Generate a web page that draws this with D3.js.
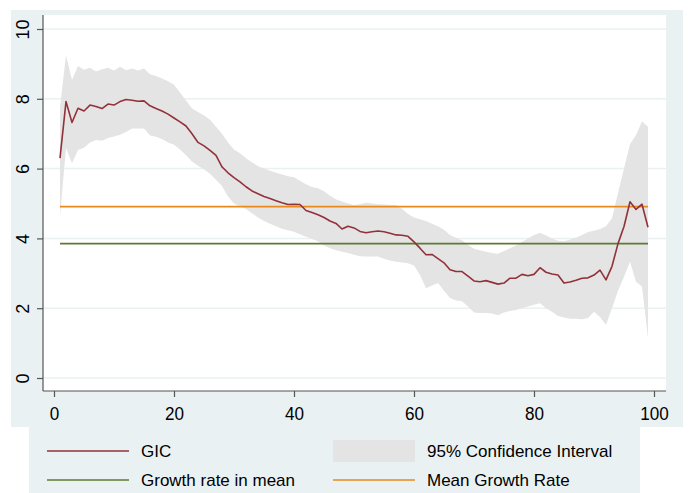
<!DOCTYPE html>
<html>
<head>
<meta charset="utf-8">
<script src="https://cdn.jsdelivr.net/npm/d3@7"></script>
<style>
  html, body { margin: 0; padding: 0; background: #ffffff; }
  svg { display: block; }
  text { font-family: "Liberation Sans", Arial, Helvetica, sans-serif; fill: #000; }
</style>
</head>
<body>
<svg id="chart" width="689" height="493"></svg>
<script>
// ---- data ----
const percentiles = d3.range(1, 100);
const gic = [6.30,7.92,7.32,7.73,7.65,7.82,7.78,7.72,7.85,7.82,
             7.92,7.98,7.96,7.93,7.94,7.80,7.72,7.65,7.56,7.45,
             7.34,7.22,7.00,6.75,6.65,6.52,6.38,6.05,5.88,5.74,
             5.62,5.48,5.36,5.28,5.20,5.14,5.08,5.02,4.97,4.98,
             4.97,4.80,4.74,4.68,4.60,4.50,4.43,4.27,4.35,4.30,
             4.20,4.16,4.19,4.21,4.19,4.15,4.10,4.09,4.06,3.90,
             3.72,3.53,3.54,3.42,3.30,3.10,3.05,3.05,2.92,2.78,
             2.76,2.79,2.74,2.69,2.72,2.86,2.86,2.97,2.93,2.97,
             3.16,3.03,2.98,2.95,2.72,2.75,2.80,2.86,2.87,2.95,
             3.09,2.81,3.20,3.85,4.34,5.05,4.83,4.98,4.32];
const ciUpper = [7.77,9.25,8.54,8.94,8.83,8.89,8.78,8.85,8.89,8.81,
                 8.92,8.82,8.87,8.81,8.87,8.70,8.65,8.58,8.50,8.40,
                 8.18,7.95,7.72,7.62,7.52,7.40,7.20,7.00,6.75,6.55,
                 6.44,6.30,6.18,6.07,6.00,5.94,5.88,5.83,5.78,5.75,
                 5.65,5.55,5.47,5.44,5.35,5.22,5.12,5.06,5.00,4.96,
                 4.98,5.02,5.00,4.98,4.97,4.96,4.96,4.85,4.70,4.60,
                 4.55,4.50,4.42,4.35,4.25,4.10,4.02,3.95,3.82,3.70,
                 3.66,3.62,3.58,3.56,3.64,3.72,3.80,3.90,4.00,4.10,
                 4.16,4.08,4.00,3.93,3.92,3.97,4.02,4.10,4.18,4.22,
                 4.27,4.35,4.58,5.30,6.00,6.70,6.96,7.35,7.20];
const ciLower = [4.64,6.59,6.15,6.53,6.60,6.75,6.82,6.80,6.88,6.92,
                 6.97,7.05,7.15,7.15,7.15,6.95,6.91,6.85,6.75,6.68,
                 6.55,6.38,6.20,6.08,5.98,5.85,5.68,5.50,5.20,5.00,
                 4.92,4.84,4.72,4.60,4.50,4.42,4.35,4.28,4.23,4.19,
                 4.12,4.05,3.98,3.92,3.80,3.72,3.66,3.62,3.58,3.53,
                 3.49,3.48,3.48,3.48,3.42,3.37,3.33,3.31,3.29,3.22,
                 2.95,2.57,2.65,2.72,2.50,2.29,2.22,2.20,2.05,1.88,
                 1.86,1.86,1.85,1.80,1.88,1.92,1.95,2.00,2.05,2.10,
                 2.14,2.00,1.90,1.78,1.73,1.70,1.70,1.68,1.72,1.90,
                 1.75,1.52,2.00,2.50,2.90,3.33,2.76,2.62,1.14];
const growthRateInMean = 3.85;
const meanGrowthRate = 4.91;
const xTicks = [0, 20, 40, 60, 80, 100];
const yTicks = [0, 2, 4, 6, 8, 10];
const legendItems = [
  {label: "GIC", type: "line", color: "#93313a"},
  {label: "95% Confidence Interval", type: "area", color: "#e4e4e4"},
  {label: "Growth rate in mean", type: "line", color: "#5b7b31"},
  {label: "Mean Growth Rate", type: "line", color: "#e98a1d"}
];

// ---- layout ----
const svg = d3.select("#chart");
const bg = "#eaf1f3";
const plot = {left: 43, right: 666, top: 15, bottom: 391};
const x = d3.scaleLinear().domain([0, 100]).range([54, 654]);
const y = d3.scaleLinear().domain([0, 10]).range([378, 29]);

// outer graph region
svg.append("rect").attr("x", 11).attr("y", 10).attr("width", 672).attr("height", 417).attr("fill", bg);
// plot region
svg.append("rect").attr("x", plot.left).attr("y", plot.top)
  .attr("width", plot.right - plot.left).attr("height", plot.bottom - plot.top).attr("fill", "#ffffff");

// grid
svg.append("g").selectAll("line").data(yTicks).join("line")
  .attr("x1", plot.left).attr("x2", plot.right)
  .attr("y1", d => y(d)).attr("y2", d => y(d))
  .attr("stroke", bg).attr("stroke-width", 1.5);

const data = percentiles.map((p, i) => ({p, g: gic[i], lo: ciLower[i], hi: ciUpper[i]}));

// CI area
svg.append("path").datum(data)
  .attr("d", d3.area().x(d => x(d.p)).y0(d => y(d.lo)).y1(d => y(d.hi)))
  .attr("fill", "#e4e4e4");

// horizontal reference lines
const p0 = percentiles[0], p1 = percentiles[percentiles.length - 1];
svg.append("line").attr("x1", x(p0)).attr("x2", x(p1))
  .attr("y1", y(growthRateInMean)).attr("y2", y(growthRateInMean))
  .attr("stroke", legendItems[2].color).attr("stroke-width", 1.6);
svg.append("line").attr("x1", x(p0)).attr("x2", x(p1))
  .attr("y1", y(meanGrowthRate)).attr("y2", y(meanGrowthRate))
  .attr("stroke", legendItems[3].color).attr("stroke-width", 1.6);

// GIC line
svg.append("path").datum(data)
  .attr("d", d3.line().x(d => x(d.p)).y(d => y(d.g)))
  .attr("fill", "none").attr("stroke", legendItems[0].color)
  .attr("stroke-width", 1.6).attr("stroke-linejoin", "round");

// axes
const yAxis = d3.axisLeft(y).tickValues(yTicks).tickSize(6).tickFormat(d3.format("d"));
const gy = svg.append("g").attr("transform", `translate(${plot.left},0)`).call(yAxis);
gy.select(".domain").attr("d", `M0,${plot.top}V${plot.bottom}`).attr("stroke", "#555").attr("stroke-width", 1.2);
gy.selectAll(".tick line").attr("stroke", "#555").attr("stroke-width", 1.2);
gy.selectAll(".tick text")
  .attr("x", null).attr("dy", null)
  .attr("font-size", 18).attr("text-anchor", "middle")
  .attr("transform", "translate(-14,0) rotate(-90)")
  .attr("y", 0);

const xAxis = d3.axisBottom(x).tickValues(xTicks).tickSize(6).tickFormat(d3.format("d"));
const gx = svg.append("g").attr("transform", `translate(0,${plot.bottom})`).call(xAxis);
gx.select(".domain").attr("d", `M${plot.left},0H${plot.right}`).attr("stroke", "#555").attr("stroke-width", 1.2);
gx.selectAll(".tick line").attr("stroke", "#555").attr("stroke-width", 1.2);
gx.selectAll(".tick text")
  .attr("y", null).attr("dy", null)
  .attr("font-size", 19).attr("text-anchor", "middle")
  .attr("transform", "translate(0,29) scale(0.9,1)");

// legend
const lg = svg.append("g");
lg.append("rect").attr("x", 29).attr("y", 427).attr("width", 611).attr("height", 66).attr("fill", bg);
const cols = [47, 333], rows = [451, 480];
legendItems.forEach((it, i) => {
  const cx = cols[i % 2], cy = rows[Math.floor(i / 2)];
  if (it.type === "line") {
    lg.append("line").attr("x1", cx).attr("x2", cx + 82).attr("y1", cy).attr("y2", cy)
      .attr("stroke", it.color).attr("stroke-width", 1.6);
  } else {
    lg.append("rect").attr("x", cx).attr("y", cy - 11).attr("width", 82).attr("height", 22)
      .attr("fill", it.color);
  }
  lg.append("text").attr("x", cx + 94).attr("y", cy + 6).attr("font-size", 17).text(it.label);
});
</script>
</body>
</html>
